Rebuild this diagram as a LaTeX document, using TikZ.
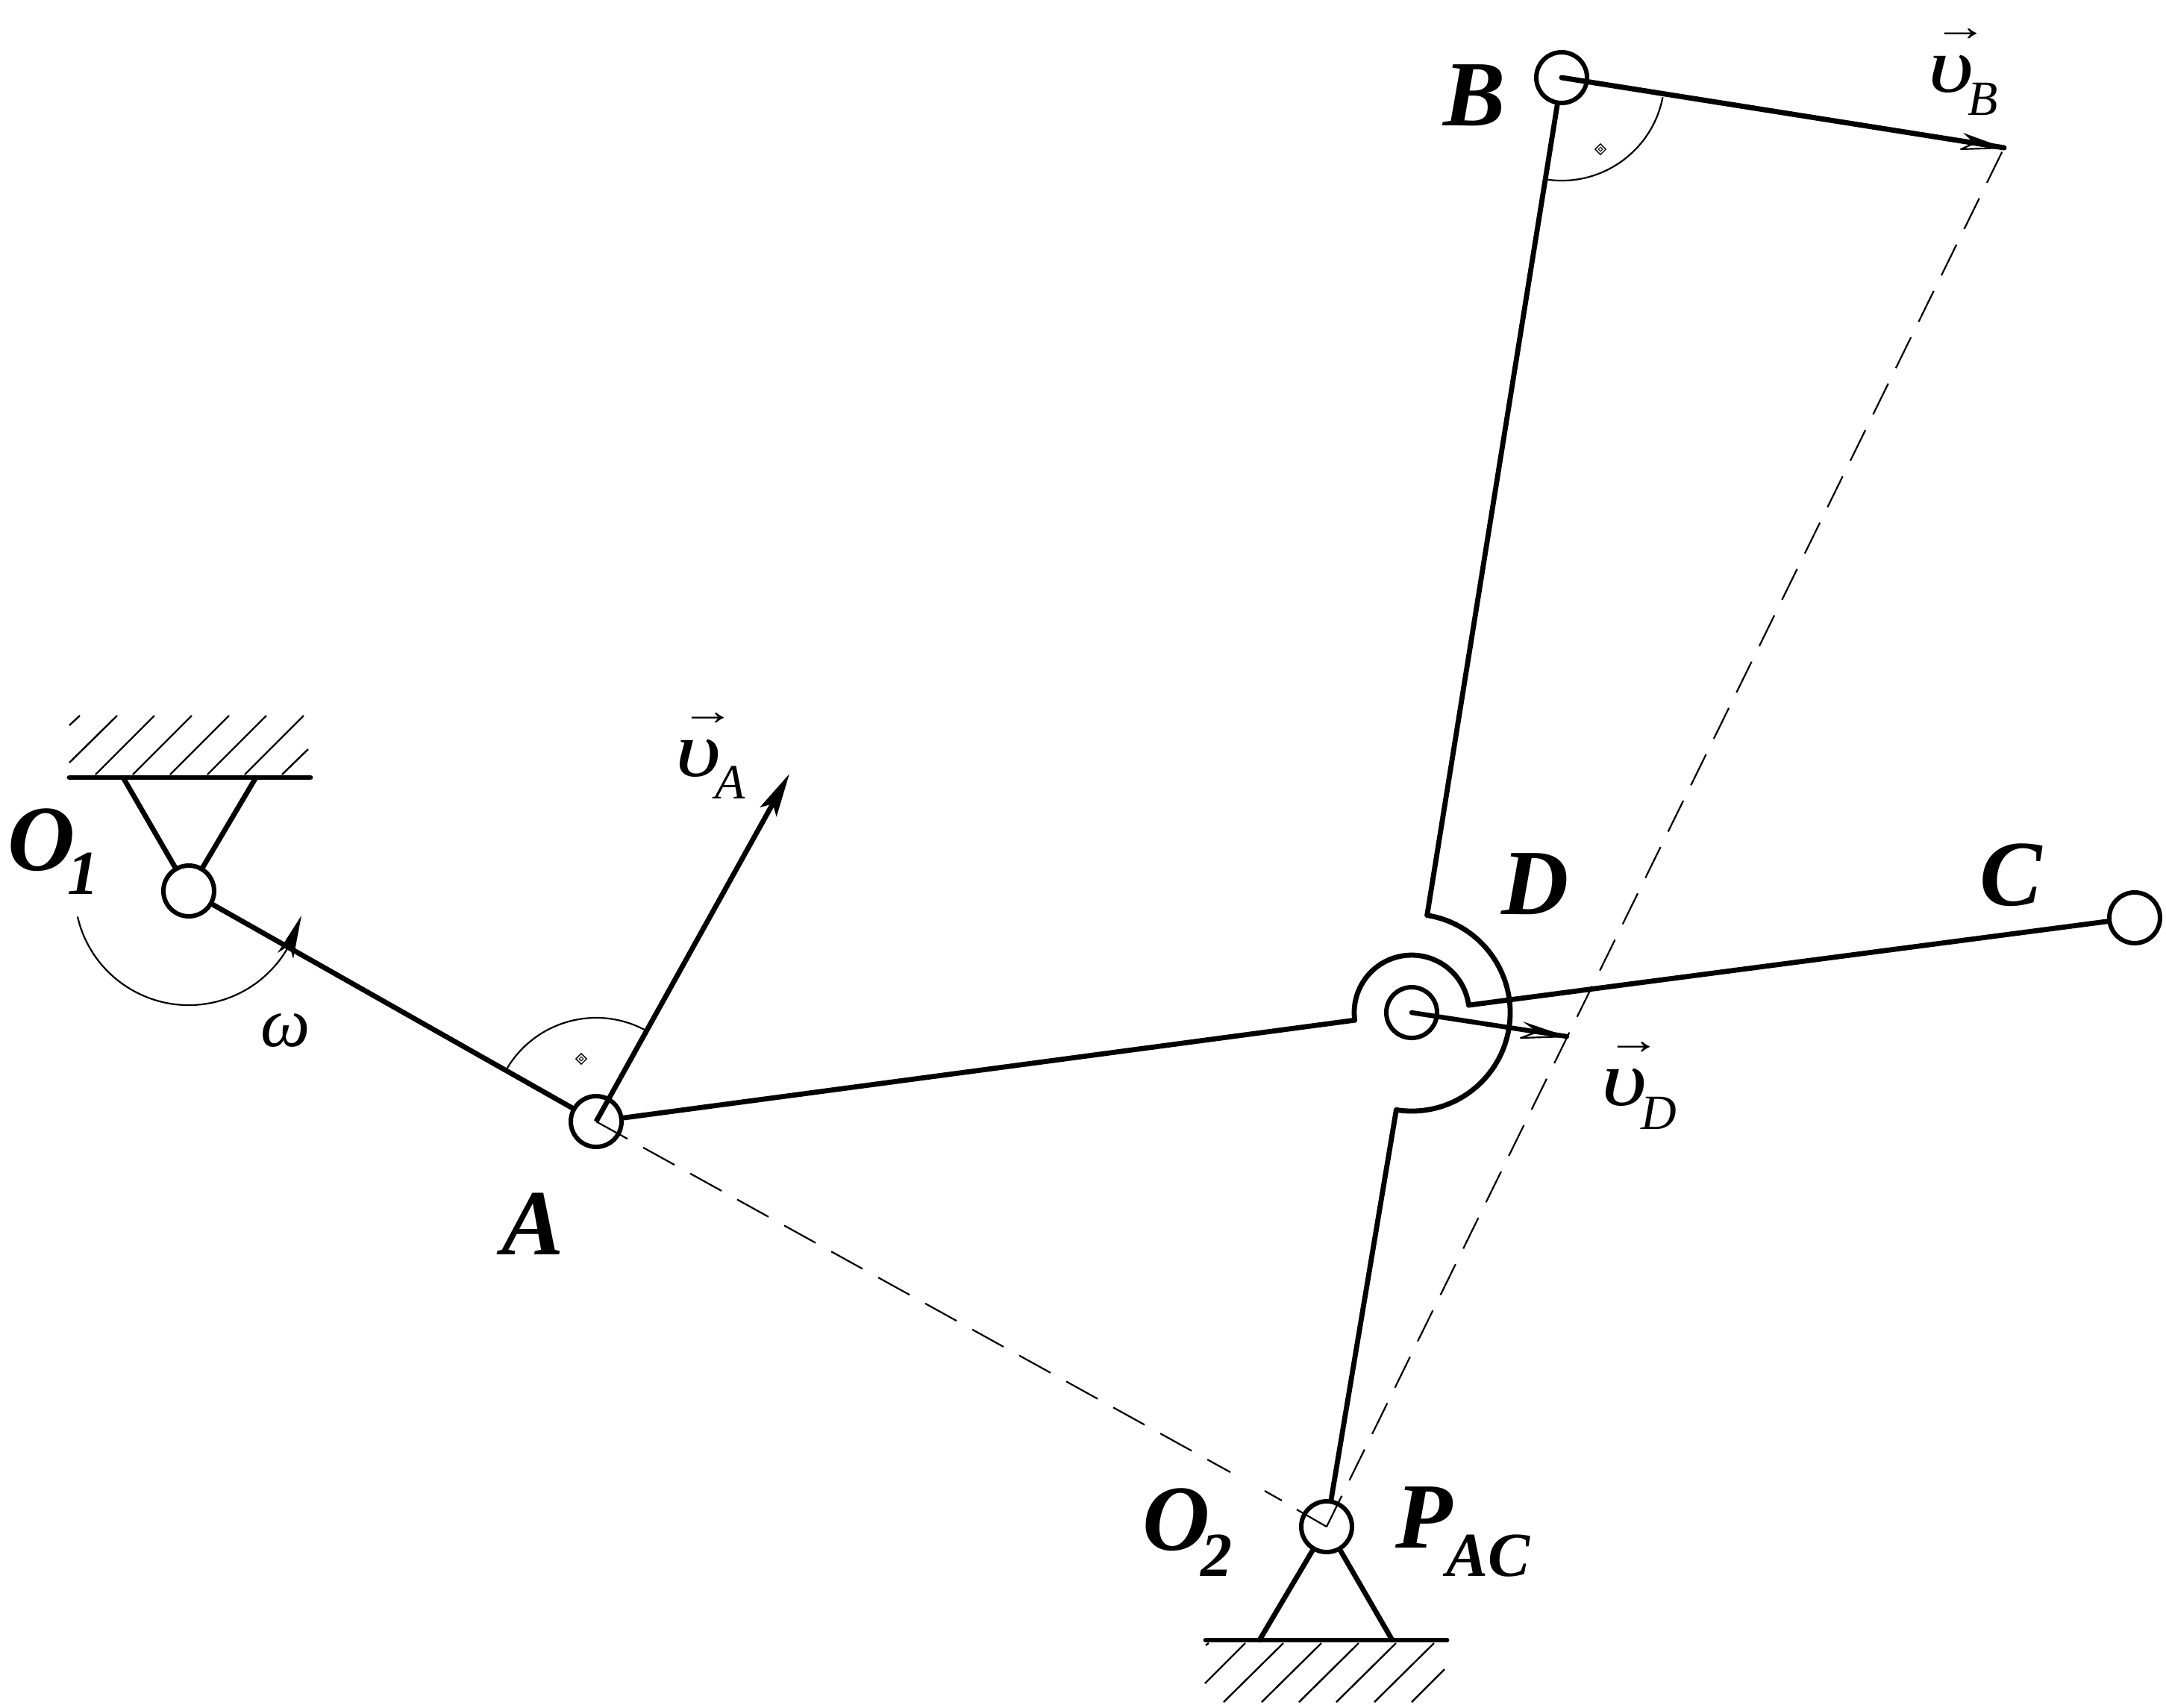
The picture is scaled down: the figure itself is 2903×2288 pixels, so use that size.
\documentclass[tikz,border=0pt]{standalone}
\usepackage{fontspec}
\setmainfont{Liberation Serif}
\newfontfamily\upsfont[FakeStretch=1.27]{Liberation Serif}
\newfontfamily\arrfont[FakeStretch=1.3]{Liberation Serif}
\usetikzlibrary{arrows.meta,shapes.geometric}
\newcommand\bigfont{\fontsize{62.5pt}{70pt}\selectfont\bfseries\itshape}
\newcommand\subboldfont{\fontsize{42pt}{48pt}\selectfont\bfseries\itshape}
\newcommand\velfont{\fontsize{52.5pt}{60pt}\selectfont\itshape}
\newcommand\omfont{\fontsize{47pt}{55pt}\selectfont\itshape}
\newcommand\subvelfont{\fontsize{33pt}{40pt}\selectfont\rmfamily\itshape}
\newcommand\lblsub[3]{\kern#1\lower#2\hbox{\subboldfont #3}}
\newcommand\velsub[3]{\kern#1\lower#2\hbox{\subvelfont #3}}
\newcommand\vecv{\rlap{\kern3.5pt\raisebox{34.5pt}{\fontsize{28pt}{28pt}\selectfont\arrfont\upshape →}}{\upsfont\itshape υ}}
\tikzset{
  linkline/.style={line width=3.4pt,line cap=round,line join=round},
  thinline/.style={line width=1.1pt},
  hatchline/.style={line width=1.2pt},
  dashA/.style={line width=1.1pt,dash pattern=on 24pt off 12pt},
  dashB/.style={line width=1.1pt,dash pattern=on 23pt off 11.6pt},
  joint/.style={circle,draw,line width=3pt,minimum size=34pt,inner sep=0pt},
  biglab/.style={inner sep=0pt,anchor=base west,font=\bigfont},
  vellab/.style={inner sep=0pt,anchor=base west,font=\velfont},
  omlab/.style={inner sep=0pt,anchor=base west,font=\omfont},
  rightmark/.style={diamond,draw,line width=.7pt,minimum size=7.5pt,inner sep=0pt},
  rightdot/.style={diamond,draw,line width=.5pt,minimum size=3pt,inner sep=0pt},
}
\begin{document}
\begin{tikzpicture}[x=.5pt,y=.5pt]
\useasboundingbox (0,0) rectangle (2903,-2288);
% joints
\node[joint] (O1) at (253,-1194) {};
\node[joint] (A) at (799,-1503) {};
\node[joint] (D) at (1892,-1357) {};
\node[joint] (B) at (2093,-104) {};
\node[joint] (C) at (2861,-1230) {};
\node[joint] (O2) at (1778,-2046) {};
% body at D
\path (D.center) ++(187.6:38.5pt) coordinate (arcL);
\path (D.center) ++(7.4:38.5pt) coordinate (arcR);
\path (D.center) ++(81:66pt) coordinate (outS);
\path (D.center) ++(-99:66pt) coordinate (outE);
\draw[linkline] (arcL) arc[start angle=187.6,end angle=7.4,radius=38.5pt];
\draw[linkline] (outS) arc[start angle=81,end angle=-99,radius=66pt];
% links
\draw[linkline] (O1) -- (A);
\draw[linkline] (A) -- (arcL);
\draw[linkline] (arcR) -- (C);
\draw[linkline] (B) -- (outS);
\draw[linkline] (O2) -- (outE);
% top support
\coordinate (wa) at (93,-1042);
\coordinate (wb) at (416,-1042);
\coordinate (sa) at (165,-1042);
\coordinate (sb) at (343,-1042);
\draw[linkline] (wa) -- (wb);
\draw[linkline] (O1) -- (sa);
\draw[linkline] (O1) -- (sb);
\foreach \x in {128,178,228,278,328}
  \draw[hatchline] (\x,-1038) -- ++(79,79);
\draw[hatchline] (93,-1022) -- (157,-959);
\draw[hatchline] (93,-972) -- (107,-959);
\draw[hatchline] (378,-1038) -- (413,-1004);
% bottom support
\coordinate (wc) at (1616,-2198);
\coordinate (wd) at (1939,-2198);
\coordinate (sc) at (1688,-2198);
\coordinate (sd) at (1866,-2198);
\draw[linkline] (wc) -- (wd);
\draw[linkline] (O2) -- (sc);
\draw[linkline] (O2) -- (sd);
\foreach \x in {1720,1771,1821,1871,1922}
  \draw[hatchline] (\x,-2202) -- ++(-80,-79);
\draw[hatchline] (1669,-2202) -- (1615,-2256);
\draw[hatchline] (1936,-2237) -- (1892,-2281);
\draw[hatchline] (1620,-2202) -- (1616,-2205);
% dashed lines
\coordinate (dA1) at (1649,-1973);
\coordinate (dA2) at (1695,-1998);
\coordinate (dA3) at (1718,-2011);
\coordinate (dA4) at (1738,-2023);
\coordinate (tipB) at (2686,-198);
\coordinate (tipD) at (2100,-1389);
\coordinate (tipA) at (1058,-1037);
\draw[dashA] (A.center) -- (dA1);
\draw[thinline] (dA2) -- (dA3);
\draw[thinline] (dA4) -- (O2.center);
\draw[dashB] (O2.center) -- (tipB);
% velocity A
\draw[linkline,line cap=butt,-{Stealth[length=29pt,width=12.5pt,inset=6pt]}] (A.center) -- (tipA);
% velocity B
\draw[linkline,line width=3.5pt] (B.center) -- (tipB);
\coordinate (bt) at (2631,-178);
\coordinate (bb) at (2628,-200);
\coordinate (bn) at (2646,-192);
\fill (tipB) -- (bt) -- (bn) -- cycle;
\draw[thinline,line join=round] (tipB) -- (bb) -- (bn);
% velocity D
\draw[linkline,line width=3.2pt] (D.center) -- (tipD);
\coordinate (dt) at (2041,-1369);
\coordinate (db) at (2038,-1391);
\coordinate (dn) at (2060,-1383);
\fill (tipD) -- (dt) -- (dn) -- cycle;
\draw[thinline,line join=round] (tipD) -- (db) -- (dn);
% omega arc and arrowhead
\path (O1.center) ++(193:76.5pt) coordinate (omS);
\draw[thinline] (omS) arc[start angle=193,end angle=332,radius=76.5pt];
\fill (404,-1227) -- (372,-1277) -- (388,-1267) -- (393,-1285) -- cycle;
% right angle marks
\path (A.center) ++(61:69.5pt) coordinate (raA);
\draw[thinline] (raA) arc[start angle=61,end angle=150,radius=69.5pt];
\path (B.center) ++(-11:69pt) coordinate (raB);
\draw[thinline] (raB) arc[start angle=-11,end angle=-98,radius=69pt];
\node[rightmark] (mA) at (779,-1419) {};
\node[rightdot] (mAi) at (779,-1419) {};
\node[rightmark] (mB) at (2145,-200) {};
\node[rightdot] (mBi) at (2145,-200) {};
% labels
\node[biglab] (lO1) at (10,-1166) {O\lblsub{-5pt}{16pt}{1}};
\node[biglab] (lA) at (672,-1681) {A};
\node[biglab] (lB) at (1934,-168) {B};
\node[biglab] (lC) at (2653,-1213) {C};
\node[biglab] (lD) at (2012,-1225) {D};
\node[biglab] (lO2) at (1531,-2077) {O\lblsub{-6pt}{17.5pt}{2}};
\node[biglab] (lP) at (1870,-2074) {P\lblsub{-4pt}{19pt}{AC}};
\node[vellab] (vA) at (905,-1040) {\vecv\velsub{-4pt}{15pt}{A}};
\node[vellab] (vB) at (2584,-123) {\vecv\velsub{-4pt}{15.5pt}{B}};
\node[vellab] (vD) at (2146,-1481) {\vecv\velsub{-4pt}{16pt}{D}};
\node[omlab] (om) at (349,-1402) {ω};
\end{tikzpicture}
\end{document}
